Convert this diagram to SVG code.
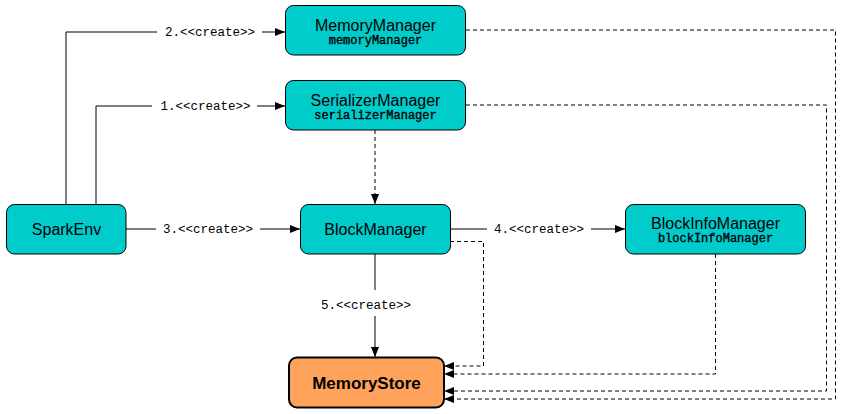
<svg xmlns="http://www.w3.org/2000/svg" width="841" height="414" viewBox="0 0 841 414">
<style>
.node rect{fill:#00CCCC;stroke:#000;stroke-width:1}
.t{font-family:"Liberation Sans",Arial,sans-serif;font-size:16px;text-anchor:middle;fill:#000}
.s{font-family:"Liberation Mono","Courier New",monospace;font-size:12px;text-anchor:middle;fill:#000;stroke:#000;stroke-width:0.35}
.lbl{font-family:"Liberation Mono","Courier New",monospace;font-size:12.5px;text-anchor:middle;fill:#000}
.c{fill:none;stroke:#000;stroke-width:1}
.d{fill:none;stroke:#000;stroke-width:1;stroke-dasharray:4,3}
.bg{fill:#fff}
</style>
<defs>
<marker id="a" viewBox="0 0 10 8" refX="10" refY="4" markerWidth="10" markerHeight="8" markerUnits="userSpaceOnUse" orient="auto">
<path d="M0,0 L10,4 L0,8 Z" fill="#000"/>
</marker>
</defs>
<g id="connectors">
<path class="c" d="M66,204 V32 H285" marker-end="url(#a)"/>
<path class="c" d="M96,204 V106 H285" marker-end="url(#a)"/>
<path class="c" d="M126,229 H300" marker-end="url(#a)"/>
<path class="c" d="M450,229 H625" marker-end="url(#a)"/>
<path class="c" d="M375,254 V357" marker-end="url(#a)"/>
<path class="d" d="M375,130 V204" marker-end="url(#a)"/>
<path class="d" d="M466,30 H835.5 V399 H444" marker-end="url(#a)"/>
<path class="d" d="M466,105 H826.5 V391 H444" marker-end="url(#a)"/>
<path class="d" d="M450,241.5 H483.5 V366 H444" marker-end="url(#a)"/>
<path class="d" d="M715.5,254 V374 H444" marker-end="url(#a)"/>
<rect class="bg" x="157" y="24" width="105" height="16"/>
<text class="lbl" x="210" y="36">2.&lt;&lt;create&gt;&gt;</text>
<rect class="bg" x="152" y="98" width="105" height="16"/>
<text class="lbl" x="205.5" y="110">1.&lt;&lt;create&gt;&gt;</text>
<rect class="bg" x="156" y="221" width="104" height="16"/>
<text class="lbl" x="208" y="233">3.&lt;&lt;create&gt;&gt;</text>
<rect class="bg" x="487" y="221" width="104" height="16"/>
<text class="lbl" x="539" y="233">4.&lt;&lt;create&gt;&gt;</text>
<rect class="bg" x="320" y="290" width="110" height="26"/>
<text class="lbl" x="366" y="309">5.&lt;&lt;create&gt;&gt;</text>
</g>
<g id="MemoryManager" class="node">
<rect x="285.5" y="5.5" width="180" height="49.5" rx="8"/>
<text class="t" x="375.5" y="31">MemoryManager</text>
<text class="s" x="375.5" y="44">memoryManager</text>
</g>
<g id="SerializerManager" class="node">
<rect x="285.5" y="80.5" width="180" height="49.5" rx="8"/>
<text class="t" x="375.5" y="106">SerializerManager</text>
<text class="s" x="375.5" y="119">serializerManager</text>
</g>
<g id="SparkEnv" class="node">
<rect x="6.5" y="204.5" width="119.5" height="49.5" rx="8"/>
<text class="t" x="66.5" y="235">SparkEnv</text>
</g>
<g id="BlockManager" class="node">
<rect x="300.5" y="204.5" width="150" height="49.5" rx="8"/>
<text class="t" x="375.5" y="235">BlockManager</text>
</g>
<g id="BlockInfoManager" class="node">
<rect x="625.5" y="204.5" width="180" height="49.5" rx="8"/>
<text class="t" x="715.5" y="229">BlockInfoManager</text>
<text class="s" x="715.5" y="242">blockInfoManager</text>
</g>
<g id="MemoryStore">
<rect x="289" y="357.5" width="155" height="50" rx="8" fill="#FFA35C" stroke="#000" stroke-width="2"/>
<text class="t" x="366.5" y="389" style="font-weight:bold;font-size:17px">MemoryStore</text>
</g>
</svg>
